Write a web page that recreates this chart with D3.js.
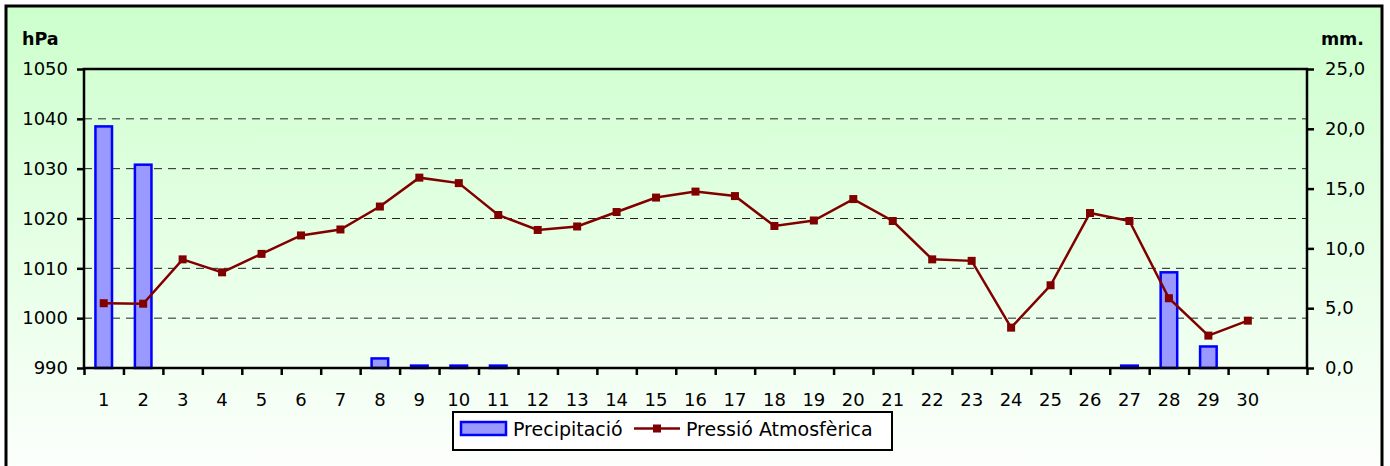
<!DOCTYPE html>
<html lang="ca">
<head>
    <meta charset="UTF-8">
    <title>Precipitació i pressió</title>
    <script src="https://d3js.org/d3.v7.min.js"></script>
    <style>
        body { margin: 0; background: #fff; }
        svg { display: block; }
        text { font-family: "DejaVu Sans", "Liberation Sans", Arial, sans-serif; fill: #000; }
        .tick-label { font-size: 18px; }
        .unit { font-size: 17.5px; font-weight: bold; }
        .legend-text { font-size: 19px; }
    </style>
</head>
<body>
    <script>
        // days of the month (31st slot is empty)
        const days = d3.range(1, 32);
        const dayLabels = days.map(d => d <= 30 ? String(d) : "");

        // precipitation, mm
        const precip = [20.2, 17.0, 0, 0, 0, 0, 0, 0.8, 0.2, 0.2,
                        0.2, 0, 0, 0, 0, 0, 0, 0, 0, 0,
                        0, 0, 0, 0, 0, 0, 0.2, 8.0, 1.8, 0];

        // atmospheric pressure, hPa
        const pressure = [1003.0, 1002.9, 1011.8, 1009.2, 1012.9, 1016.6, 1017.8, 1022.4, 1028.2, 1027.1,
                          1020.7, 1017.7, 1018.4, 1021.3, 1024.2, 1025.4, 1024.5, 1018.5, 1019.6, 1023.9,
                          1019.5, 1011.8, 1011.5, 998.1, 1006.6, 1021.1, 1019.5, 1004.0, 996.5, 999.5];

        const hpaTicks = [990, 1000, 1010, 1020, 1030, 1040, 1050];
        const mmTicks = [0, 5, 10, 15, 20, 25];

        const width = 1390, height = 466;
        const pLeft = 84, pRight = 1307, pTop = 69, pBottom = 368;

        const svg = d3.select("body").append("svg")
            .attr("width", width).attr("height", height);

        const defs = svg.append("defs");
        const grad = defs.append("linearGradient")
            .attr("id", "bg").attr("x1", 0).attr("y1", 0).attr("x2", 0).attr("y2", 1);
        grad.append("stop").attr("offset", "0%").attr("stop-color", "#ccffcc");
        grad.append("stop").attr("offset", "100%").attr("stop-color", "#ffffff");

        // outer frame (runs past the bottom of the picture)
        svg.append("rect")
            .attr("x", 6).attr("y", 6)
            .attr("width", 1376).attr("height", 490)
            .attr("fill", "url(#bg)")
            .attr("stroke", "#000").attr("stroke-width", 3);

        const x = d3.scaleBand().domain(days).range([pLeft, pRight]).padding(0);
        const yP = d3.scaleLinear().domain([990, 1050]).range([pBottom, pTop]);
        const yR = d3.scaleLinear().domain([0, 25]).range([pBottom, pTop]);

        // grid
        svg.append("g").selectAll("line")
            .data(hpaTicks.filter(t => t > 990 && t < 1050))
            .join("line")
            .attr("x1", pLeft).attr("x2", pRight)
            .attr("y1", d => yP(d)).attr("y2", d => yP(d))
            .attr("stroke", "#222").attr("stroke-width", 1)
            .attr("stroke-dasharray", "8,6");

        // bars
        const barW = x.bandwidth() * 0.42;
        svg.append("g").selectAll("rect")
            .data(precip.map((v, i) => ({ day: days[i], v })).filter(d => d.v > 0))
            .join("rect")
            .attr("x", d => x(d.day) + (x.bandwidth() - barW) / 2)
            .attr("y", d => yR(d.v))
            .attr("width", barW)
            .attr("height", d => pBottom - yR(d.v))
            .attr("fill", "#9999ff")
            .attr("stroke", "#0000ff").attr("stroke-width", 2.5);

        // pressure line
        const cx = d => x(d.day) + x.bandwidth() / 2;
        const pts = pressure.map((v, i) => ({ day: days[i], v }));
        svg.append("path")
            .datum(pts)
            .attr("fill", "none")
            .attr("stroke", "#800000").attr("stroke-width", 2.5)
            .attr("d", d3.line().x(cx).y(d => yP(d.v)));
        svg.append("g").selectAll("rect")
            .data(pts)
            .join("rect")
            .attr("x", d => cx(d) - 4).attr("y", d => yP(d.v) - 4)
            .attr("width", 8).attr("height", 8)
            .attr("fill", "#800000");

        // plot frame
        svg.append("rect")
            .attr("x", pLeft).attr("y", pTop)
            .attr("width", pRight - pLeft).attr("height", pBottom - pTop)
            .attr("fill", "none").attr("stroke", "#000").attr("stroke-width", 2.5);

        // left axis
        const gL = svg.append("g").attr("transform", `translate(${pLeft},0)`)
            .call(d3.axisLeft(yP).tickValues(hpaTicks).tickSize(7).tickPadding(9)
                .tickFormat(d3.format("d")));
        // right axis
        const gR = svg.append("g").attr("transform", `translate(${pRight},0)`)
            .call(d3.axisRight(yR).tickValues(mmTicks).tickSize(7).tickPadding(11)
                .tickFormat(d => d3.format(".1f")(d).replace(".", ",")));
        // bottom axis: ticks at band edges, labels at centres
        const xEdges = d3.scaleLinear().domain([0, days.length]).range([pLeft, pRight]);
        const gB = svg.append("g").attr("transform", `translate(0,${pBottom})`)
            .call(d3.axisBottom(xEdges).tickValues(d3.range(0, days.length + 1)).tickSize(7).tickFormat(""));
        svg.append("g").selectAll("text")
            .data(days)
            .join("text")
            .attr("class", "tick-label")
            .attr("x", d => x(d) + x.bandwidth() / 2)
            .attr("y", 406)
            .attr("text-anchor", "middle")
            .text((d, i) => dayLabels[i]);

        [gL, gR, gB].forEach(g => {
            g.attr("font-size", null).attr("font-family", null);
            g.select(".domain").remove();
            g.selectAll(".tick line").attr("stroke", "#000").attr("stroke-width", 2.5);
            g.selectAll(".tick text").attr("class", "tick-label");
        });

        // unit labels
        svg.append("text").attr("class", "unit").attr("x", 22).attr("y", 45).text("hPa");
        svg.append("text").attr("class", "unit").attr("x", 1364).attr("y", 45)
            .attr("text-anchor", "end").text("mm.");

        // legend
        const lg = svg.append("g");
        lg.append("rect")
            .attr("x", 453).attr("y", 412).attr("width", 439).attr("height", 38)
            .attr("fill", "#fff").attr("stroke", "#000").attr("stroke-width", 2);
        lg.append("rect")
            .attr("x", 461).attr("y", 422).attr("width", 45).attr("height", 13)
            .attr("fill", "#9999ff").attr("stroke", "#0000ff").attr("stroke-width", 2.5);
        lg.append("text").attr("class", "legend-text").attr("x", 513).attr("y", 436).text("Precipitació");
        lg.append("line")
            .attr("x1", 634).attr("x2", 680).attr("y1", 428.5).attr("y2", 428.5)
            .attr("stroke", "#800000").attr("stroke-width", 2.5);
        lg.append("rect")
            .attr("x", 653).attr("y", 424.5).attr("width", 8).attr("height", 8)
            .attr("fill", "#800000");
        lg.append("text").attr("class", "legend-text").attr("x", 686).attr("y", 436).text("Pressió Atmosfèrica");
    </script>
</body>
</html>
